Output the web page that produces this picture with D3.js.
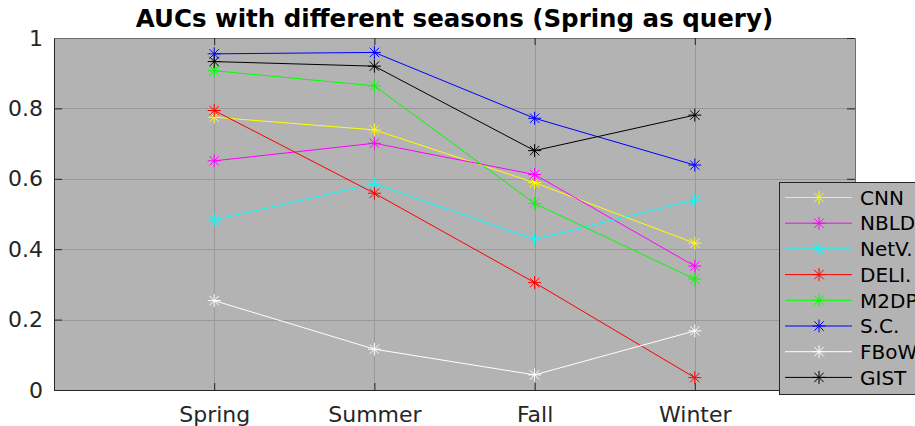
<!DOCTYPE html>
<html>
<head>
<meta charset="utf-8">
<script src="https://cdn.jsdelivr.net/npm/d3@7"></script>
<style>
  body { margin: 0; background: #fff; }
  svg { display: block; font-family: "DejaVu Sans", sans-serif; }
</style>
</head>
<body>
<svg id="chart" width="915" height="426"></svg>
<script>
// data
var seasons = ['Spring', 'Summer', 'Fall', 'Winter'];
var yTicks = [0, 0.2, 0.4, 0.6, 0.8, 1];
var methods = ['CNN', 'NBLD', 'NetV.', 'DELI.', 'M2DP', 'S.C.', 'FBoW', 'GIST'];
var colors = ['#ffff00', '#ff00ff', '#00ffff', '#ff0000', '#00ff00', '#0000ff', '#ffffff', '#000000'];
var cnn = [0.775, 0.739, 0.589, 0.417];
var nbld = [0.651, 0.701, 0.612, 0.352];
var netv = [0.483, 0.586, 0.428, 0.540];
var deli = [0.794, 0.559, 0.305, 0.035];
var m2dp = [0.907, 0.864, 0.530, 0.315];
var sc = [0.955, 0.959, 0.772, 0.639];
var fbow = [0.254, 0.116, 0.043, 0.168];
var gist = [0.933, 0.920, 0.680, 0.781];
var series = [cnn, nbld, netv, deli, m2dp, sc, fbow, gist];

var svg = d3.select('#chart');
var box = { left: 54, right: 855, top: 38, bottom: 390 };

var x = d3.scaleLinear().domain([0, 5]).range([box.left, box.right]);
var y = d3.scaleLinear().domain([0, 1]).range([box.bottom, box.top]);

// plot background
svg.append('rect')
  .attr('x', box.left).attr('y', box.top)
  .attr('width', box.right - box.left).attr('height', box.bottom - box.top)
  .attr('fill', '#b3b3b3');

// grid
var grid = svg.append('g').attr('stroke', '#999999').attr('stroke-width', 1);
grid.selectAll('.gy').data(yTicks.slice(1, -1)).enter().append('line')
  .attr('x1', box.left).attr('x2', box.right)
  .attr('y1', function(d) { return Math.round(y(d)) + 0.5; })
  .attr('y2', function(d) { return Math.round(y(d)) + 0.5; });
grid.selectAll('.gx').data(seasons).enter().append('line')
  .attr('y1', box.top).attr('y2', box.bottom)
  .attr('x1', function(d, i) { return Math.round(x(i + 1)) + 0.5; })
  .attr('x2', function(d, i) { return Math.round(x(i + 1)) + 0.5; });

// axes (matlab style: ticks inside, box all round)
var xAxis = svg.append('g')
  .attr('transform', 'translate(0,' + box.bottom + ')')
  .call(d3.axisBottom(x).tickValues([1, 2, 3, 4])
    .tickFormat(function(d) { return seasons[d - 1]; })
    .tickSizeInner(-7).tickSizeOuter(0).tickPadding(16));
var yAxis = svg.append('g')
  .attr('transform', 'translate(' + box.left + ',0)')
  .call(d3.axisLeft(y).tickValues(yTicks)
    .tickFormat(d3.format('~g'))
    .tickSizeInner(-8).tickSizeOuter(0).tickPadding(11));
var topAxis = svg.append('g')
  .attr('transform', 'translate(0,' + box.top + ')')
  .call(d3.axisTop(x).tickValues([1, 2, 3, 4]).tickFormat('').tickSizeInner(-7).tickSizeOuter(0));
var rightAxis = svg.append('g')
  .attr('transform', 'translate(' + box.right + ',0)')
  .call(d3.axisRight(y).tickValues(yTicks).tickFormat('').tickSizeInner(-8).tickSizeOuter(0));

svg.selectAll('.domain, .tick line').attr('stroke', '#262626');
topAxis.select('.domain').attr('stroke', '#6e6e6e');
rightAxis.select('.domain').attr('stroke', '#6e6e6e');
svg.selectAll('.tick text').attr('font-size', 22).attr('fill', '#262626')
  .attr('font-family', '"DejaVu Sans", sans-serif');

// asterisk marker
function star(g, cx, cy, r, color) {
  var d = r * 0.72;
  var segs = [[-r, 0, r, 0], [0, -r, 0, r], [-d, -d, d, d], [-d, d, d, -d]];
  g.selectAll(null).data(segs).enter().append('line')
    .attr('x1', function(s) { return cx + s[0]; })
    .attr('y1', function(s) { return cy + s[1]; })
    .attr('x2', function(s) { return cx + s[2]; })
    .attr('y2', function(s) { return cy + s[3]; })
    .attr('stroke', color).attr('stroke-width', 1);
}

var line = d3.line()
  .x(function(d, i) { return x(i + 1); })
  .y(function(d) { return y(d); });

series.forEach(function(vals, k) {
  var g = svg.append('g');
  g.append('path').datum(vals)
    .attr('d', line)
    .attr('fill', 'none')
    .attr('stroke', colors[k])
    .attr('stroke-width', 1);
  vals.forEach(function(v, i) {
    star(g, x(i + 1), y(v), 6.5, colors[k]);
  });
});

// title
svg.append('text')
  .attr('x', (box.left + box.right) / 2).attr('y', 27)
  .attr('text-anchor', 'middle')
  .attr('font-size', 24.5).attr('font-weight', 'bold')
  .attr('fill', '#000')
  .text('AUCs with different seasons (Spring as query)');

// legend
var lg = svg.append('g').attr('transform', 'translate(779,182)');
lg.append('rect')
  .attr('x', 0.5).attr('y', 0.5)
  .attr('width', 160).attr('height', 212)
  .attr('fill', '#b3b3b3')
  .attr('stroke', '#262626').attr('stroke-width', 1);
methods.forEach(function(name, k) {
  var ly = 15.5 + k * 25.7;
  lg.append('line')
    .attr('x1', 6).attr('x2', 73)
    .attr('y1', ly).attr('y2', ly)
    .attr('stroke', colors[k]).attr('stroke-width', 1);
  star(lg, 40, ly, 6.5, colors[k]);
  lg.append('text')
    .attr('x', 81).attr('y', ly)
    .attr('dy', '0.36em')
    .attr('font-size', 20)
    .attr('fill', '#000')
    .text(name);
});
</script>
</body>
</html>
